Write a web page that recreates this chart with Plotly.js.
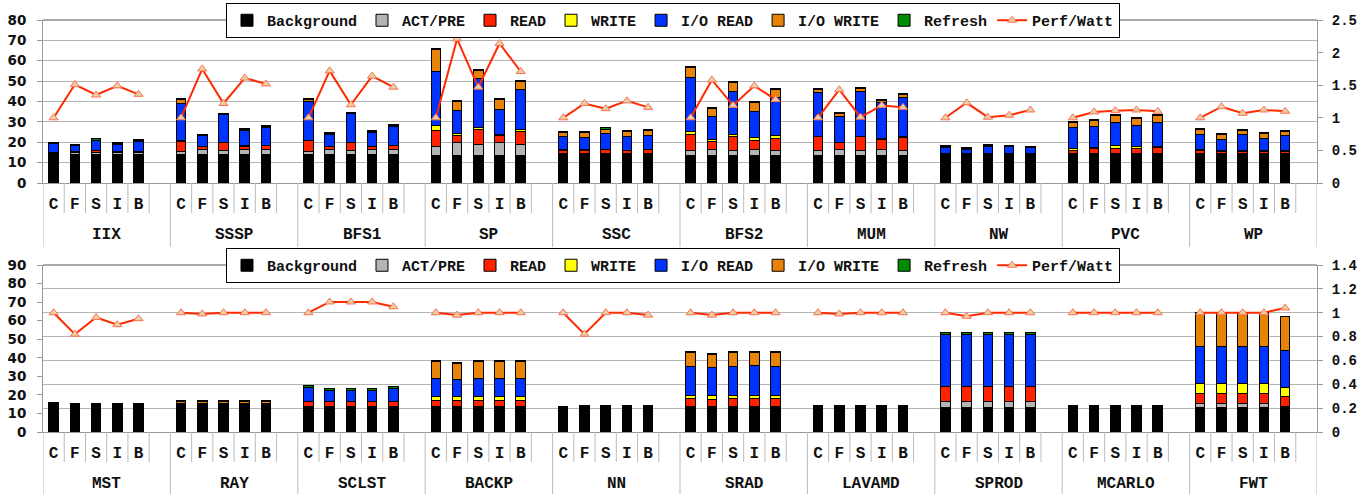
<!DOCTYPE html>
<html><head><meta charset="utf-8">
<script src="https://cdn.plot.ly/plotly-3.0.1.min.js"></script>
<style>body{margin:0;background:#fff;overflow:hidden} .p{width:1369px;height:247px}</style>
</head><body>
<div id="top" class="p"></div><div id="bot" class="p"></div>
<script>
// ---------- DATA ----------
const schemes = ['C','F','S','I','B'];
const groupsTop = ['IIX','SSSP','BFS1','SP','SSC','BFS2','MUM','NW','PVC','WP'];
const groupsBot = ['MST','RAY','SCLST','BACKP','NN','SRAD','LAVAMD','SPROD','MCARLO','FWT'];

// top panel (per group: C, F, S, I, B)
const backgroundTop = [14,14,14,14,14, 14,14,14,14,14, 14,14,14,14,14, 13.6,13.6,13.6,13.6,13.6, 13.9,13.9,13.9,13.9,13.9,
  13.6,13.6,13.6,13.6,13.6, 13.6,13.6,13.6,13.6,13.6, 14.1,14.1,14.1,14.1,14.1, 13.9,13.9,13.9,13.9,13.9, 13.9,13.9,13.9,13.9,13.9];
const actpreTop = [0.5,1.2,1.0,0.8,1.0, 1.6,2.4,2.0,2.4,2.4, 1.6,2.4,2.0,2.4,2.4, 4.1,6.1,5.3,6.1,5.4, 0.5,0.8,0.8,0.8,0.5,
  2.5,3.0,2.5,2.8,2.5, 2.5,2.8,2.5,2.8,2.5, 0.3,0.3,0.3,0.3,0.3, 0.5,0.5,0.5,0.5,0.5, 0.4,0.8,0.4,0.4,0.4];
const readTop = [0.7,0.3,0.8,0.6,0.5, 5.0,1.3,3.7,1.6,1.8, 5.2,1.4,3.7,1.4,2.0, 7.9,3.7,7.3,3.7,6.4, 1.6,1.4,1.6,1.2,1.8,
  7.7,3.6,6.5,4.6,5.7, 6.5,3.3,6.5,4.9,6.2, 0.3,0.2,0.3,0.3,0.3, 1.6,2.4,2.6,2.6,2.8, 1.5,1.0,1.3,1.2,1.4];
const writeTop = [0,0,0,0,0, 0.3,0.2,0.2,0.2,0.2, 0.3,0.2,0.2,0.2,0.2, 2.8,0.9,1.0,0.6,0.8, 0.2,0.2,0.2,0.2,0.2,
  1.3,1.1,1.2,1.1,1.5, 0.4,0.4,0.4,0.4,0.4, 0,0,0,0,0, 0.8,0.8,1.6,0.9,0.8, 0.4,0.4,0.4,0.5,0.4];
const ioreadTop = [4.0,2.8,5.0,3.7,5.0, 18.0,5.3,13.6,7.8,8.6, 19.0,5.8,14.0,6.8,9.2, 26.5,11.1,23.9,12.3,19.7, 6.5,6.2,7.8,6.6,6.8,
  26.5,11.2,21.3,13.1,18.5, 21.2,12.6,21.7,18.0,19.2, 2.8,1.8,3.0,3.2,2.7, 10.2,10.2,11.3,10.5,11.5, 7.4,5.2,7.6,5.8,7.0];
const iowriteTop = [0.3,0.3,0.3,0.3,0.3, 2.0,0.3,0.3,0.4,0.5, 0.8,0.3,0.2,0.3,0.3, 10.7,4.8,4.3,4.5,4.1, 2.0,2.1,2.2,2.4,2.5,
  5.0,4.1,4.1,4.5,4.1, 1.6,1.6,1.6,0.8,1.4, 0.6,0.4,0.6,0.1,0.1, 2.6,2.9,3.3,3.3,3.4, 2.8,2.4,2.4,2.5,2.1];
const refreshTop = [0.5,0.5,0.5,0.5,0.5, 0.5,0.5,0.5,0.5,0.5, 0.5,0.5,0.5,0.5,0.5, 0.5,0.5,0.5,0.5,0.5, 0.5,0.5,0.5,0.5,0.5,
  0.5,0.5,0.5,0.5,0.5, 0.5,0.5,0.5,0.5,0.5, 0.5,0.5,0.5,0.5,0.5, 0.5,0.5,0.5,0.5,0.5, 0.5,0.5,0.5,0.5,0.5];
const perfTop = [1.0,1.51,1.35,1.49,1.36, 1.0,1.75,1.22,1.61,1.52, 1.0,1.72,1.20,1.64,1.47, 1.0,2.21,1.47,2.14,1.71, 1.0,1.22,1.14,1.26,1.16,
  1.0,1.58,1.19,1.49,1.28, 1.0,1.43,1.01,1.19,1.16, 1.0,1.23,1.01,1.04,1.12, 1.0,1.09,1.11,1.12,1.10, 1.0,1.17,1.07,1.12,1.10];

// bottom panel
const backgroundBot = [14.6,14.6,14.6,14.6,14.6, 14.8,14.8,14.8,14.8,14.8, 13.5,13.5,13.5,13.5,13.5, 13.5,13.5,13.5,13.5,13.5, 13.6,13.9,13.9,13.9,13.9,
  13.5,13.5,13.5,13.5,13.5, 13.8,13.8,13.8,13.8,13.8, 13.1,13.1,13.1,13.1,13.1, 14.0,14.0,14.0,14.0,14.0, 13.1,13.1,13.1,13.1,13.9];
const actpreBot = [0,0,0,0,0, 0.3,0.3,0.3,0.3,0.3, 0.5,0.5,0.5,0.5,0.5, 0.5,0.5,0.5,0.5,0.5, 0,0,0,0,0,
  0.5,0.5,0.5,0.5,0.5, 0,0,0,0,0, 3.1,3.1,3.1,3.1,3.1, 0,0,0,0,0, 2.2,2.2,2.2,2.2,0];
const readBot = [0,0,0,0,0, 0,0,0,0,0, 2.2,2.2,2.2,2.2,2.2, 3.1,3.1,3.1,3.1,3.1, 0,0,0,0,0,
  4.0,3.6,4.0,4.0,4.0, 0,0,0,0,0, 8.1,8.1,8.1,8.1,8.1, 0,0,0,0,0, 5.4,5.4,5.4,5.4,5.0];
const writeBot = [0,0,0,0,0, 0,0,0,0,0, 0,0,0,0,0, 2.3,2.3,2.3,2.3,2.3, 0,0,0,0,0,
  1.8,2.1,1.8,1.8,1.8, 0,0,0,0,0, 0,0,0,0,0, 0,0,0,0,0, 5.4,5.4,5.4,5.4,5.2];
const ioreadBot = [0.6,0,0.4,0.4,0.4, 0.5,0.5,0.5,0.5,0.5, 8.0,6.2,6.2,6.2,7.1, 9.4,8.8,9.4,9.4,9.4, 0,0,0,0,0,
  15.3,14.8,15.5,16.0,15.5, 0,0,0,0,0, 28.3,28.3,28.3,28.3,28.3, 0,0,0,0,0, 19.8,19.8,19.8,19.8,19.8];
const iowriteBot = [0,0,0,0,0, 0.8,0.8,0.8,0.8,0.8, 0,0,0,0,0, 9.0,8.8,9.0,9.0,9.0, 0,0,0,0,0,
  7.6,7.2,7.6,7.0,7.4, 0,0,0,0,0, 0,0,0,0,0, 0,0,0,0,0, 18.0,18.0,18.0,18.0,18.2];
const refreshBot = [0.5,0.5,0.5,0.5,0.5, 0.5,0.5,0.5,0.5,0.5, 1.0,1.0,1.0,1.0,1.0, 0.5,0.5,0.5,0.5,0.5, 0.3,0.3,0.3,0.3,0.3,
  0.5,0.5,0.5,0.5,0.5, 0.3,0.3,0.3,0.3,0.3, 0.9,0.9,0.9,0.9,0.9, 0.3,0.3,0.3,0.3,0.3, 0.4,0.4,0.4,0.4,0.4];
const perfBot = [1.0,0.82,0.96,0.90,0.95, 1.0,0.99,1.0,1.0,1.0, 1.0,1.09,1.09,1.09,1.05, 1.0,0.98,1.0,1.0,1.0, 1.0,0.82,1.0,1.0,0.98,
  1.0,0.98,1.0,1.0,1.0, 1.0,0.99,1.0,1.0,1.0, 1.0,0.97,1.0,1.0,1.0, 1.0,1.0,1.0,1.0,1.0, 1.0,1.0,1.0,1.0,1.04];

const seriesNames = ['Background','ACT/PRE','READ','WRITE','I/O READ','I/O WRITE','Refresh'];
const seriesColors = ['#000000','#b4b4b4','#ff2200','#ffff00','#0033ff','#e8830a','#008c00'];

// ---------- BUILD ----------
const SLOTS = schemes.length + 1;   // 5 bars + one empty slot per group
function slotX(groups){              // slot index for every bar, null gap after each group
  const xs=[];
  groups.forEach((g,k)=>{ schemes.forEach((s,j)=>xs.push(k*SLOTS+j)); xs.push(k*SLOTS+schemes.length); });
  return xs;
}
function expand(vals){
  const out=[];
  for(let i=0;i<vals.length;i+=schemes.length){ out.push(...vals.slice(i,i+schemes.length), null); }
  return out;
}
const monoB = {family:'Liberation Mono, Courier New, monospace', weight:'bold', color:'#111'};

function draw(div, groups, comps, perf, leftMax, rightMax, rightDtick, gridOnRight, mt, mb, legTop){
  const x = slotX(groups);
  const nSlots = groups.length*SLOTS;
  const plotH = 247 - mt - mb;
  const traces = comps.map((vals,i)=>({
    type:'bar', name:seriesNames[i], x:x, y:expand(vals), width:0.45,
    marker:{color:seriesColors[i], line:{color:'#000', width:1}},
    hoverinfo:'skip'
  }));
  traces.push({
    type:'scatter', mode:'lines+markers', name:'Perf/Watt', x:x, y:expand(perf), yaxis:'y2',
    connectgaps:false,
    line:{color:'#ff2a00', width:2},
    marker:{symbol:'triangle-up', size:8, color:'#e6d0a6', line:{color:'#ff7050', width:1}},
    hoverinfo:'skip'
  });
  const tickvals=[], ticktext=[];
  groups.forEach((g,k)=>schemes.forEach((s,j)=>{tickvals.push(k*SLOTS+j); ticktext.push(s);}));
  const annotations = groups.map((g,k)=>({
    text:g, xref:'x', yref:'paper', x:k*SLOTS+(SLOTS-1)/2, y:-52/plotH, yanchor:'middle', xanchor:'center',
    showarrow:false, font:Object.assign({size:16}, monoB)
  }));
  const shapes = [{type:'line', xref:'paper', yref:'paper', x0:0, x1:1, y0:1, y1:1, line:{color:'#555', width:1}}];
  for(let b=0;b<=nSlots;b++){
    const isGroup = (b % SLOTS === 0);
    shapes.push({type:'line', xref:'x', yref:'paper', x0:b-0.5, x1:b-0.5, y0:0,
      y1: isGroup ? -mb/plotH : -30/plotH, line:{color:'#bbb', width:1}});
  }
  const layout = {
    width:1369, height:247,
    margin:{l:43, r:52, t:mt, b:mb, pad:0, autoexpand:false},
    paper_bgcolor:'#fff', plot_bgcolor:'#fff',
    barmode:'stack',
    showlegend:true,
    legend:{orientation:'h', x:0.4945, xanchor:'center', yref:'container', y:1-legTop/247, yanchor:'top',
      bgcolor:'#fff', bordercolor:'#000', borderwidth:1, traceorder:'normal',
      font:Object.assign({size:15}, monoB), itemwidth:30},
    xaxis:{type:'linear', range:[-0.5, nSlots-0.5], autorange:false,
      showline:true, linecolor:'#999', linewidth:1, zeroline:false, showgrid:false,
      tickmode:'array', tickvals:tickvals, ticktext:ticktext, ticks:'', ticklabelstandoff:6,
      tickfont:Object.assign({size:16}, monoB)},
    yaxis:{range:[0,leftMax], dtick:10, showline:true, linecolor:'#999', zeroline:false,
      ticks:'outside', ticklen:5, tickcolor:'#999', showgrid:!gridOnRight, gridcolor:'#b4b4b4',
      ticklabelstandoff:8,
      tickfont:{family:'DejaVu Sans, Verdana, sans-serif', weight:'bold', size:13.5, color:'#111'}},
    yaxis2:{range:[0,rightMax], dtick:rightDtick, overlaying:'y', side:'right', showline:true, linecolor:'#999',
      zeroline:false, ticks:'outside', ticklen:5, tickcolor:'#999', showgrid:gridOnRight, gridcolor:'#b4b4b4',
      ticklabelstandoff:6,
      tickfont:Object.assign({size:14}, monoB)},
    annotations:annotations,
    shapes:shapes
  };
  Plotly.newPlot(div, traces, layout, {staticPlot:true});
}

draw('top', groupsTop,
  [backgroundTop, actpreTop, readTop, writeTop, ioreadTop, iowriteTop, refreshTop],
  perfTop, 80, 2.5, 0.5, false, 20, 64, 3);
draw('bot', groupsBot,
  [backgroundBot, actpreBot, readBot, writeBot, ioreadBot, iowriteBot, refreshBot],
  perfBot, 90, 1.4, 0.2, true, 18, 62, 1);
</script>
</body></html>
